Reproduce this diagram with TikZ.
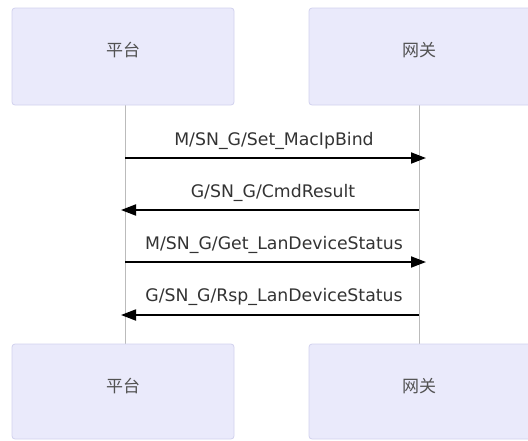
\documentclass[tikz,border=0pt]{standalone}
\usepackage{fontspec}
\setmainfont{DejaVu Sans}
\newfontfamily\cjk{Noto Sans CJK SC}
\usetikzlibrary{arrows.meta}
\definecolor{boxfill}{HTML}{EAEAFB}
\definecolor{boxline}{HTML}{D2D2EE}
\definecolor{txt}{HTML}{333333}
\definecolor{lifeline}{HTML}{BBBBBB}
\begin{document}
\begin{tikzpicture}[x=1pt,y=-1pt,
  actor/.style={draw=boxline,fill=boxfill,rounded corners=3pt,line width=0.8pt},
  lbl/.style={font=\fontsize{17.3}{19}\selectfont,text=txt,inner sep=0pt},
  clbl/.style={font=\cjk\fontsize{17}{19}\selectfont,text=txt!85,inner sep=0pt},
  msg/.style={line width=1.8pt,-{Triangle[length=15pt,width=11pt]}},
  lline/.style={draw=lifeline,line width=0.8pt}]
\useasboundingbox (0,0) rectangle (528,440);
\begin{scope}
\clip (0,0) rectangle (528,440);
% lifelines
\coordinate (pt) at (125,105);
\coordinate (pb) at (125,344);
\coordinate (gt) at (419,105);
\coordinate (gb) at (419,344);
\draw[lline] (pt) -- (pb);
\draw[lline] (gt) -- (gb);
% actors
\draw[actor] (12,8) rectangle (234,105);
\node[clbl] (p1) at (123,50) {平台};
\draw[actor] (309,8) rectangle (540,105);
\node[clbl] (g1) at (419,50) {网关};
\draw[actor] (12,344) rectangle (234,439);
\node[clbl] (p2) at (123,386) {平台};
\draw[actor] (309,344) rectangle (540,439);
\node[clbl] (g2) at (419,386) {网关};
% messages
\coordinate (a1s) at (125,158); \coordinate (a1e) at (426,158);
\coordinate (a2s) at (419,210); \coordinate (a2e) at (121,210);
\coordinate (a3s) at (125,262); \coordinate (a3e) at (426,262);
\coordinate (a4s) at (419,315); \coordinate (a4e) at (121,315);
\draw[msg] (a1s) -- (a1e);
\draw[msg] (a2s) -- (a2e);
\draw[msg] (a3s) -- (a3e);
\draw[msg] (a4s) -- (a4e);
\node[lbl] (m1) at (274,141) {M/SN\_G/Set\_MacIpBind};
\node[lbl] (m2) at (273,193) {G/SN\_G/CmdResult};
\node[lbl] (m3) at (274,245) {M/SN\_G/Get\_LanDeviceStatus};
\node[lbl] (m4) at (274,297) {G/SN\_G/Rsp\_LanDeviceStatus};
\end{scope}
\end{tikzpicture}
\end{document}
